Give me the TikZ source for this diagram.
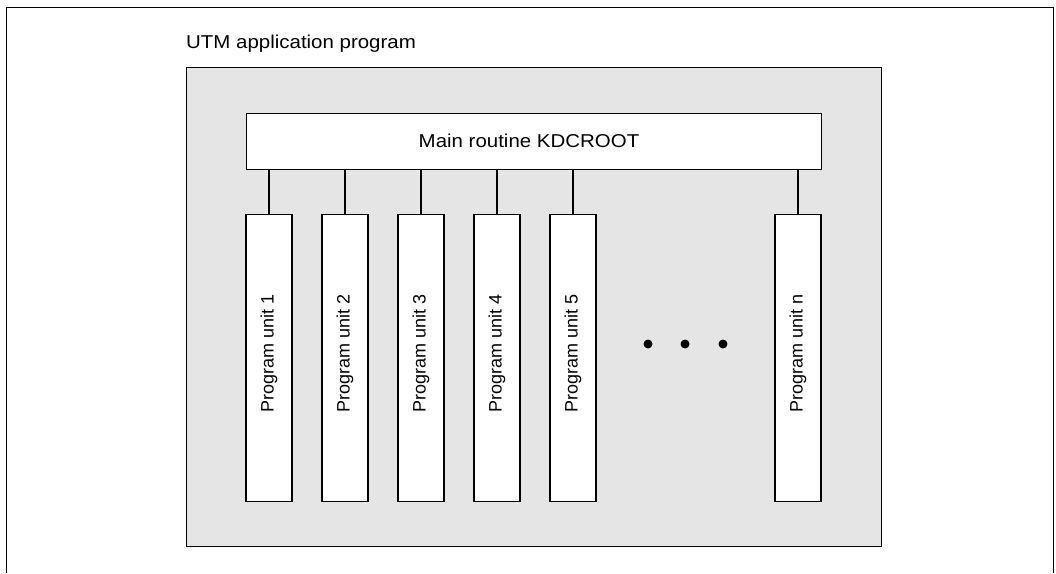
\documentclass[tikz,border=0pt]{standalone}
\usepackage{fontspec}
\setmainfont{Liberation Sans}
\newfontfamily\widefont[FakeStretch=1.1]{Liberation Sans}
\begin{document}
\begin{tikzpicture}[x=1pt,y=-1pt,
  frameline/.style={line width=1pt,black},
  areabox/.style={draw=black,line width=0.9pt,fill=black!10},
  mainbox/.style={draw=black,line width=1.4pt,fill=white,inner sep=0pt},
  unitbox/.style={draw=black,line width=1.4pt,fill=white,inner sep=0pt,minimum width=46pt,minimum height=287pt},
  unitlabel/.style={rotate=90,font=\fontsize{18}{20}\selectfont,inner sep=0pt},
  conn/.style={line width=1.4pt,black},
  dotmark/.style={circle,fill=black,inner sep=0pt,minimum size=9pt}]
\useasboundingbox (0,0) rectangle (1056,573);
% outer frame (open at bottom)
\coordinate (fbl) at (6,573);
\coordinate (ftl) at (6,7);
\coordinate (ftr) at (1053,7);
\coordinate (fbr) at (1053,573);
\draw[frameline] (fbl) -- (ftl) -- (ftr) -- (fbr);
% title
\node[anchor=base west,inner sep=0pt,font=\widefont\fontsize{18.6}{20}\selectfont] (title) at (186,48.5) {UTM application program};
% gray area
\node[areabox,anchor=north west,minimum width=695pt,minimum height=479pt,inner sep=0pt] (area) at (186,67) {};
% main routine
\node[mainbox,anchor=north west,minimum width=575pt,minimum height=56pt,font=\widefont\fontsize{18.6}{20}\selectfont] (main) at (246,113) {};
\node[inner sep=0pt,font=\widefont\fontsize{18.6}{20}\selectfont] (maintext) at (529,141) {Main routine KDCROOT};
% program units
\foreach \i/\x/\lab in {1/269/1,2/345/2,3/421/3,4/497/4,5/573/5,n/798/n}{
  \node[unitbox,anchor=north] (u\i) at (\x,214) {};
  \node[unitlabel] (t\i) at (\x,353) {Program unit \lab};
  \draw[conn] (u\i.north) -- (u\i.north |- main.south);
}
% dots
\node[dotmark] (d1) at (648,344) {};
\node[dotmark] (d2) at (685,344) {};
\node[dotmark] (d3) at (723,344) {};
\end{tikzpicture}
\end{document}
